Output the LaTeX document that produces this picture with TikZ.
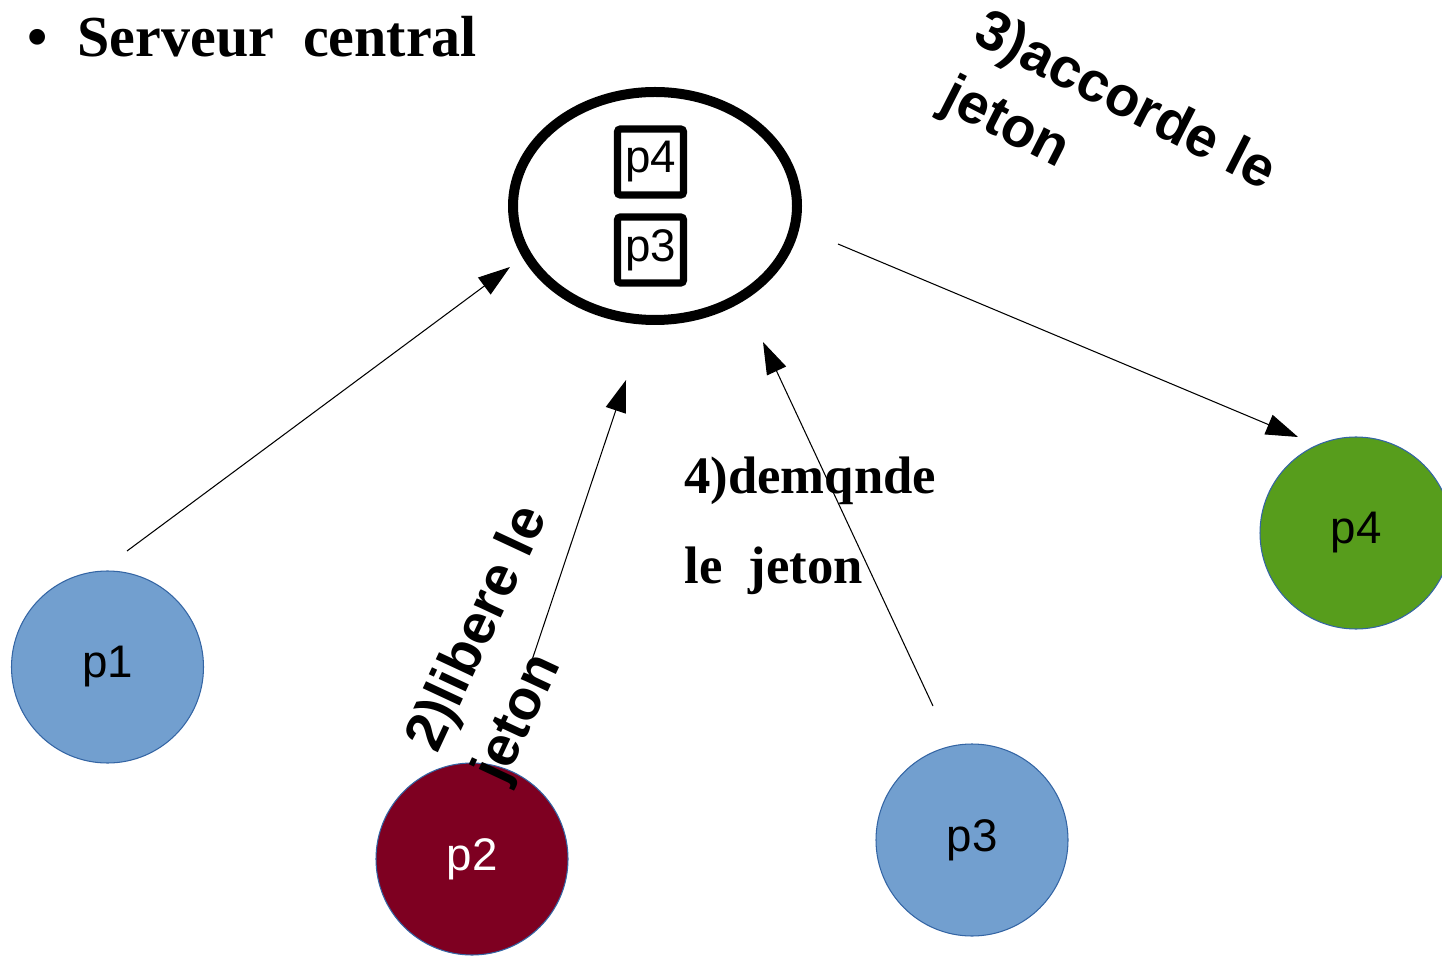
\documentclass[tikz,border=0pt]{standalone}
\usepackage{fontspec}
\setmainfont{Liberation Serif}
\setsansfont{Liberation Sans}
\usetikzlibrary{arrows.meta,shapes.geometric}
\definecolor{procblue}{HTML}{729FCF}
\definecolor{procedge}{HTML}{3465A4}
\definecolor{procred}{HTML}{7E0021}
\definecolor{procgreen}{HTML}{579D1C}

\begin{document}
\begin{tikzpicture}[
	proc/.style={circle, draw=procedge, line width=0.6pt, minimum size=3.84cm, font=\sffamily\fontsize{26}{30}\selectfont},
	queue/.style={draw, line width=4pt, rounded corners=1.5pt, minimum size=1.32cm, inner sep=0pt, font=\sffamily\fontsize{26}{30}\selectfont},
	msg/.style={line width=0.6pt, -{Triangle[length=0.64cm,width=0.42cm]}},
	lbl/.style={font=\sffamily\bfseries\fontsize{32}{42}\selectfont, align=left}]
	\useasboundingbox (0,0) rectangle (28.84,19.1);
	\node[anchor=base west, inner sep=0pt, font=\bfseries\fontsize{33}{38}\selectfont] (titre) at (0.54,17.96) {\textbullet\hspace{0.6cm}Serveur\ \ central};
	\node[draw, ellipse, line width=0.2cm, minimum width=5.68cm, minimum height=4.56cm] (serveur) at (13.1,14.98) {};
	\node[queue] (q4) at (13.01,15.86) {p4};
	\node[queue] (q3) at (13.01,14.1) {p3};
	\node[proc, fill=procblue] (p1) at (2.15,5.76) {p1};
	\node[proc, fill=procred, text=white] (p2) at (9.44,1.92) {p2};
	\node[proc, fill=procblue] (p3) at (19.44,2.3) {p3};
	\node[proc, fill=procgreen] (p4) at (27.12,8.44) {p4};
	\coordinate (d1) at (2.54,8.08);
	\coordinate (f1) at (10.2,13.76);
	\coordinate (d2) at (10.56,5.66);
	\coordinate (f2) at (12.52,11.5);
	\coordinate (d3) at (18.66,4.98);
	\coordinate (f3) at (15.26,12.26);
	\coordinate (d4) at (16.76,14.22);
	\coordinate (f4) at (25.96,10.36);
	\draw[msg] (d1) -- (f1);
	\draw[msg] (d2) -- (f2);
	\draw[msg] (d3) -- (f3);
	\draw[msg] (d4) -- (f4);
	\node[lbl, rotate=-27] (accorde) at (22.16,16.38) {3)accorde le\\jeton};
	\node[lbl, rotate=65] (libere) at (10.26,6.2) {2)libere le\\jeton};
	\node[anchor=base west, inner sep=0pt, align=left, font=\bfseries\fontsize{30}{51}\selectfont] (demande) at (13.68,7.44) {4)demqnde\\le\ \ jeton};
\end{tikzpicture}
\end{document}
